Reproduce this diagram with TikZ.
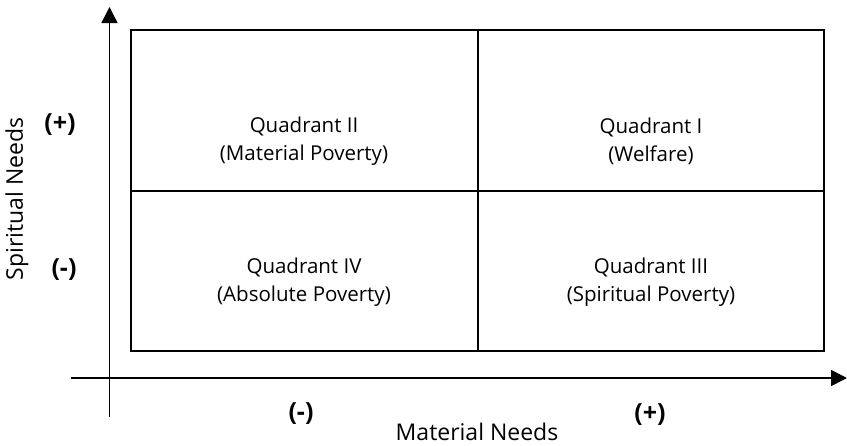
\documentclass[tikz,border=0pt]{standalone}
\usepackage{fontspec}
\setmainfont{Open Sans}
\usetikzlibrary{arrows.meta}

\begin{document}
\begin{tikzpicture}[x=1pt,y=-1pt,
    quadtext/.style={align=center,font=\fontsize{20.5}{28}\selectfont},
    signtext/.style={font=\fontsize{25}{28}\selectfont\bfseries},
    axistext/.style={font=\fontsize{23}{26}\selectfont},
    axisline/.style={line width=1.5pt,-{Triangle[length=16pt,width=16pt]}}]
  \useasboundingbox (0,0) rectangle (847,445);

  % Define the corners of the grid
  \coordinate (TL) at (131,30);
  \coordinate (BR) at (824,351);
  \coordinate (TM) at (477.5,30);
  \coordinate (BM) at (477.5,351);
  \coordinate (LM) at (131,191);
  \coordinate (RM) at (824,191);

  % Draw the grid
  \draw[line width=1.4pt] (TL) rectangle (BR);
  \draw[line width=2pt] (TM) -- (BM);
  \draw[line width=2pt] (LM) -- (RM);

  % Draw coordinate axes
  \coordinate (YO) at (109.5,417);
  \coordinate (YE) at (109.5,7);
  \coordinate (XO) at (71,378);
  \coordinate (XE) at (847,378);
  \draw[axisline] (YO) -- (YE);
  \draw[axisline] (XO) -- (XE);

  % Label the quadrants
  \node[quadtext] (q2) at (304,141) {Quadrant II\\(Material Poverty)};
  \node[quadtext] (q1) at (651,141) {Quadrant I\\(Welfare)};
  \node[quadtext] (q4) at (304,282) {Quadrant IV\\(Absolute Poverty)};
  \node[quadtext] (q3) at (651,282) {Quadrant III\\(Spiritual Poverty)};

  % Label the axes
  \node[signtext] (yplus) at (60,125) {(+)};
  \node[signtext] (yminus) at (64,270) {(-)};
  \node[signtext] (xminus) at (301,414) {(-)};
  \node[signtext] (xplus) at (650,415) {(+)};
  \node[axistext,rotate=90] (ylabel) at (17,199) {Spiritual Needs};
  \node[axistext] (xlabel) at (477,432) {Material Needs};
\end{tikzpicture}
\end{document}
